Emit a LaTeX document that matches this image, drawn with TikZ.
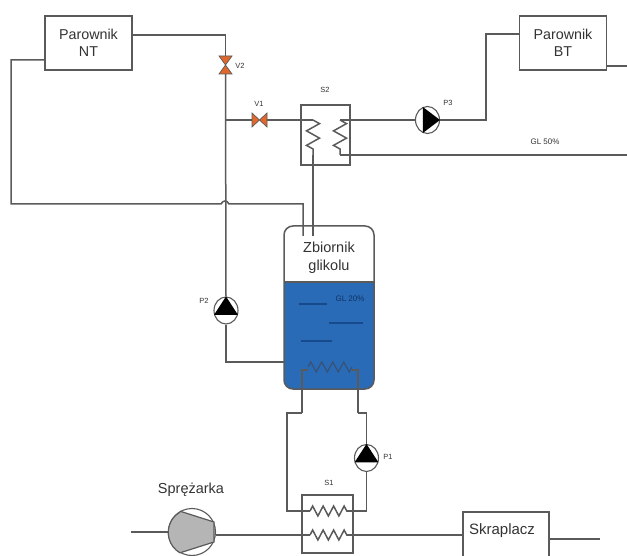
\documentclass[tikz,border=0pt]{standalone}
\usepackage{fontspec}
\setmainfont{Liberation Sans}
\usetikzlibrary{positioning,calc,shapes.geometric,decorations.pathmorphing}
\definecolor{pipegray}{HTML}{5A5A5A}
\definecolor{textink}{HTML}{333333}
\definecolor{tankblue}{HTML}{2A6BB8}
\definecolor{tankdark}{HTML}{164A8C}
\definecolor{valveorange}{HTML}{E0682C}
\definecolor{compgray}{HTML}{B5B5B5}
\tikzset{
  pipe/.style={draw=pipegray, line width=1.5pt},
  unitbox/.style={draw=pipegray, line width=1.5pt, fill=white, minimum width=87pt, minimum height=54pt, align=center, font=\fontsize{14.3}{17}\selectfont, text=textink, inner sep=0pt},
  exbox/.style={draw=pipegray, line width=1.5pt, inner sep=0pt},
  coil/.style={pipe, decorate, decoration={zigzag, segment length=14.5pt, amplitude=6.5pt}},
  valve/.style={inner sep=0pt, outer sep=0pt},
  valveshape/.style={draw=pipegray, fill=valveorange, line width=0.7pt},
  pump/.style={draw=pipegray, line width=1.1pt, fill=white, ellipse, inner sep=0pt, minimum width=24pt, minimum height=27pt},
  tag/.style={font=\fontsize{7.5}{9}\selectfont, text=textink, inner sep=0pt},
  bigtag/.style={font=\fontsize{14.5}{18}\selectfont, text=textink, inner sep=0pt, align=center}
}
\begin{document}
\begin{tikzpicture}[x=1pt, y=-1pt]
  \useasboundingbox (0,0) rectangle (627,556);
  \clip (0,0) rectangle (627,556);

  % units
  \node[unitbox] (nt) at (88.5,43) {Parownik\\NT};
  \node[unitbox] (bt) at (563,43) {Parownik\\BT};
  \node[exbox, minimum width=49pt, minimum height=60pt] (s2) at (325.5,135) {};
  \node[exbox, minimum width=51pt, minimum height=58pt] (s1) at (327.5,524) {};
  \node[exbox, minimum width=86pt, minimum height=70pt] (skr) at (506,547) {};
  \node[draw=pipegray, line width=1.5pt, rounded corners=9pt, minimum width=90pt, minimum height=163pt, inner sep=0pt,
    path picture={\fill[tankblue, sharp corners] (path picture bounding box.south west) rectangle ([yshift=25.5pt]path picture bounding box.east);
      \draw[pipegray, line width=1.2pt, sharp corners] ([yshift=25.5pt]path picture bounding box.west) -- ([yshift=25.5pt]path picture bounding box.east);}] (tank) at (329,307.5) {};

  % fixed points on the pipes
  \coordinate (back) at (11,204);
  \coordinate (j1) at (225,120);
  \coordinate (hl) at (221,204);
  \coordinate (hr) at (229,204);
  \coordinate (rett) at (303,236);
  \coordinate (s2l) at (313,120);
  \coordinate (s2lb) at (313,155);
  \coordinate (s2t) at (313,236);
  \coordinate (s2r) at (340,120);
  \coordinate (s2rb) at (340,155);
  \coordinate (glend) at (627,155);
  \coordinate (btend) at (627,66);
  \coordinate (in2) at (285,362);
  \coordinate (tc1) at (302,370);
  \coordinate (tc2) at (358,370);
  \coordinate (s1a) at (310,511);
  \coordinate (s1b) at (347,511);
  \coordinate (s1c) at (310,535);
  \coordinate (s1d) at (347,535);
  \coordinate (compin) at (131,532);
  \coordinate (skrend) at (600,539);

  % valves and pumps
  \node[valve, minimum width=13pt, minimum height=18pt] (v2) at (225.5,65) {};
  \node[valve, minimum width=15pt, minimum height=14pt] (v1) at (259.5,120) {};
  \node[pump] (p3) at (427.5,120) {};
  \node[pump] (p2) at (226,310.5) {};
  \node[pump] (p1) at (366.5,458) {};
  \node[draw=pipegray, line width=1.1pt, fill=white, circle, minimum size=47pt, inner sep=0pt] (comp) at (192,532) {};

  % NT loop
  \draw[pipe] ([yshift=8pt]nt.east) -| (v2.north);
  \draw[pipe] (v2.south) -- (p2.north);
  \draw[pipe] (j1) -- (v1.west);
  \draw[pipe] (v1.east) -- (s2l);
  \draw[coil] (s2l) -- (s2lb);
  \draw[pipe] (s2lb) -- (s2t);
  \draw[pipe] ([yshift=-17pt]nt.west) -| (back) -- (hl) .. controls (223,200) and (227,200) .. (hr) -| (rett);
  \draw[pipe] (p2.south) |- (in2);

  % BT loop
  \draw[pipe] (p3.east) -| (486,34) -- ([yshift=9pt]bt.west);
  \draw[pipe] (s2r) -- (p3.west);
  \draw[coil] (s2r) -- (s2rb);
  \draw[pipe] (s2rb) -- (glend);
  \draw[pipe] ([yshift=-23pt]bt.east) -- (btend);

  % coil in the tank
  \draw[pipe] (302,413) -- (tc1) -- (308,370);
  \draw[coil, draw=tankdark!50!pipegray, line width=1.2pt, decoration={zigzag, segment length=11pt, amplitude=5pt}] (308,367) -- (352,367);
  \draw[pipe] (352,370) -- (tc2) -- (358,413);

  % S1 loop
  \draw[pipe] (302,413) -| (287,511) -- (s1a);
  \draw[coil, decoration={zigzag, segment length=10.5pt, amplitude=5pt}] (s1a) -- (s1b);
  \draw[pipe] (s1b) -| (p1.south);
  \draw[pipe] (p1.north) |- (358,413);
  \draw[pipe] (compin) -- (comp.west);
  \draw[pipe] (comp.east |- s1c) -- (s1c);
  \draw[coil, decoration={zigzag, segment length=10.5pt, amplitude=5pt}] (s1c) -- (s1d);
  \draw[pipe] (s1d) -- (skr.west |- s1d);
  \draw[pipe] (skr.east |- skrend) -- (skrend);

  % shapes on top
  \draw[valveshape] (v2.north west) -- (v2.north east) -- (v2.south west) -- (v2.south east) -- cycle;
  \draw[valveshape] (v1.north west) -- (v1.south west) -- (v1.north east) -- (v1.south east) -- cycle;
  \fill[black] (p3.east) -- (p3.110) -- (p3.250) -- cycle;
  \fill[black] (p2.north) -- (p2.200) -- (p2.340) -- cycle;
  \fill[black] (p1.north) -- (p1.200) -- (p1.340) -- cycle;
  \draw[pipe, line width=1.2pt, fill=compgray] (comp.120) -- (214,522) -- (214,542) -- (comp.240) arc[start angle=240, end angle=120, radius=23.5pt];

  % lines in the glycol
  \draw[tankdark, line width=1.2pt] (299,304) -- (327,304);
  \draw[tankdark, line width=1.2pt] (329,323) -- (363,323);
  \draw[tankdark, line width=1.2pt] (301,341) -- (332,341);

  % labels
  \node[bigtag] (tanktxt) at (329,257.5) {Zbiornik\\glikolu};
  \node[bigtag] (comptxt) at (191,490) {Sprężarka};
  \node[bigtag, font=\fontsize{15}{18}\selectfont] (skrtxt) at (502,531) {Skraplacz};
  \node[tag] (v2txt) at (240,66) {V2};
  \node[tag] (v1txt) at (259,104) {V1};
  \node[tag] (s2txt) at (325,90) {S2};
  \node[tag] (p3txt) at (448,103) {P3};
  \node[tag] (p2txt) at (204,301) {P2};
  \node[tag] (p1txt) at (388,457) {P1};
  \node[tag] (s1txt) at (329,483) {S1};
  \node[tag, font=\fontsize{8}{9}\selectfont] (gl50) at (545,142) {GL 50\%};
  \node[tag, font=\fontsize{8}{9}\selectfont, text=tankdark!70!black] (gl20) at (350,299) {GL 20\%};
\end{tikzpicture}
\end{document}
